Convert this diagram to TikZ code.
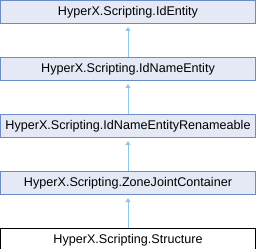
\documentclass[tikz,border=0pt]{standalone}
\usepackage{fontspec}
\setmainfont{Liberation Sans}
\usetikzlibrary{arrows.meta,positioning}
\definecolor{clsborder}{HTML}{6A8CCB}
\definecolor{clsfill}{HTML}{E4E9F5}
\definecolor{edgeblue}{HTML}{8DC6EA}

\begin{document}
\begin{tikzpicture}[
    x=1pt, y=-1pt,
    font=\fontsize{12.6}{15}\selectfont,
    cls/.style={rectangle, draw=clsborder, fill=clsfill, line width=1pt,
                minimum width=255pt, minimum height=23pt, inner sep=0pt},
    cur/.style={cls, draw=black, fill=white},
    inh/.style={draw=edgeblue, line width=1pt,
                -{Triangle[length=4pt,width=5pt]}, shorten >=3pt},
  ]
  \useasboundingbox (0,0) rectangle (256,248);

  %% Basisklassen (oben) bis zur Klasse selbst (unten)
  \node[cls] (ident)  at (128,12) {HyperX.Scripting.IdEntity};
  \node[cls, below=33pt of ident]   (namedent) {HyperX.Scripting.IdNameEntity};
  \node[cls, below=33pt of namedent] (renament) {HyperX.Scripting.IdNameEntityRenameable};
  \node[cls, below=33pt of renament] (zonejc)   {HyperX.Scripting.ZoneJointContainer};
  \node[cur, below=33pt of zonejc]   (struct)   {HyperX.Scripting.Structure};

  %% Vererbungspfeile
  \draw[inh] (namedent.north) -- (ident.south);
  \draw[inh] (renament.north) -- (namedent.south);
  \draw[inh] (zonejc.north)   -- (renament.south);
  \draw[inh] (struct.north)   -- (zonejc.south);
\end{tikzpicture}
\end{document}
